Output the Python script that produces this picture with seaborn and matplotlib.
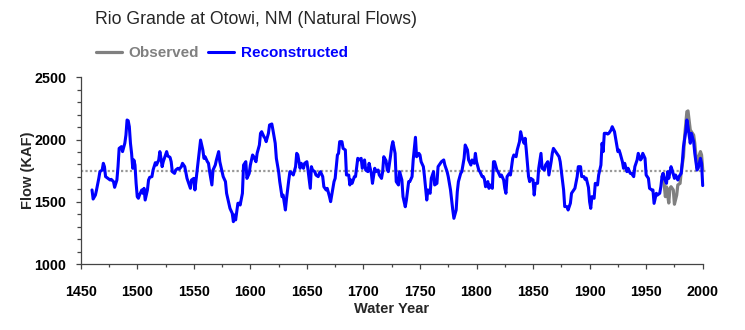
import numpy as np
import pandas as pd
import matplotlib
matplotlib.use("Agg")
import matplotlib.pyplot as plt
from matplotlib.ticker import MultipleLocator
import seaborn as sns

# Reconstructed annual natural flow (KAF), Rio Grande at Otowi
recon_years = [
    1460, 1461, 1463, 1464, 1466, 1467, 1469, 1470, 1471, 1472, 1474, 1476, 1477, 1479, 1480,
    1482, 1483, 1484, 1486, 1487, 1489, 1490, 1491, 1492, 1493, 1494, 1495, 1496, 1497, 1498,
    1499, 1500, 1501, 1502, 1504, 1505, 1506, 1507, 1509, 1510, 1511, 1513, 1514, 1516, 1517,
    1519, 1520, 1521, 1522, 1523, 1525, 1526, 1527, 1529, 1530, 1531, 1533, 1534, 1536, 1537,
    1539, 1540, 1542, 1544, 1545, 1547, 1548, 1550, 1551, 1552, 1553, 1555, 1556, 1558, 1559,
    1560, 1562, 1563, 1564, 1566, 1567, 1569, 1570, 1572, 1573, 1575, 1576, 1578, 1579, 1581,
    1582, 1584, 1585, 1586, 1587, 1589, 1590, 1591, 1593, 1594, 1596, 1597, 1599, 1600, 1602,
    1603, 1605, 1606, 1608, 1609, 1610, 1612, 1613, 1614, 1616, 1617, 1619, 1620, 1622, 1623,
    1625, 1626, 1628, 1629, 1631, 1632, 1634, 1635, 1637, 1638, 1640, 1641, 1642, 1644, 1645,
    1647, 1648, 1650, 1651, 1653, 1654, 1655, 1657, 1658, 1660, 1661, 1662, 1664, 1665, 1667,
    1668, 1670, 1671, 1672, 1674, 1675, 1677, 1678, 1679, 1681, 1682, 1684, 1685, 1687, 1688,
    1689, 1690, 1692, 1693, 1695, 1696, 1698, 1699, 1701, 1702, 1704, 1705, 1707, 1708, 1710,
    1711, 1713, 1714, 1716, 1717, 1718, 1720, 1721, 1722, 1724, 1725, 1726, 1728, 1729, 1731,
    1732, 1734, 1735, 1737, 1738, 1740, 1741, 1743, 1744, 1746, 1747, 1749, 1750, 1751, 1753,
    1754, 1756, 1757, 1759, 1760, 1762, 1763, 1765, 1766, 1768, 1769, 1771, 1772, 1774, 1775,
    1777, 1778, 1779, 1780, 1782, 1783, 1784, 1786, 1787, 1789, 1790, 1792, 1793, 1795, 1796,
    1798, 1799, 1800, 1802, 1803, 1805, 1806, 1807, 1808, 1810, 1811, 1812, 1814, 1815, 1816,
    1818, 1819, 1821, 1822, 1824, 1825, 1826, 1827, 1829, 1830, 1832, 1833, 1835, 1836, 1838,
    1839, 1840, 1842, 1843, 1844, 1846, 1847, 1848, 1850, 1851, 1852, 1854, 1855, 1857, 1858,
    1860, 1861, 1863, 1864, 1866, 1867, 1868, 1870, 1871, 1873, 1874, 1876, 1877, 1878, 1880,
    1881, 1883, 1884, 1886, 1887, 1889, 1890, 1892, 1893, 1895, 1896, 1897, 1899, 1900, 1901,
    1902, 1904, 1905, 1907, 1908, 1910, 1911, 1912, 1913, 1915, 1916, 1917, 1919, 1920, 1922,
    1923, 1925, 1926, 1927, 1929, 1930, 1931, 1933, 1934, 1936, 1937, 1939, 1940, 1942, 1943,
    1945, 1946, 1947, 1949, 1950, 1952, 1953, 1955, 1956, 1957, 1959, 1960, 1962, 1963, 1964,
    1965, 1966, 1968, 1969, 1970, 1972, 1973, 1975, 1976, 1978, 1979, 1981, 1982, 1983, 1985,
    1986, 1987, 1989, 1990, 1992, 1993, 1995, 1996, 1998, 1999, 2000,
]
recon_flow = [
    1595, 1522, 1554, 1595, 1688, 1742, 1755, 1809, 1782, 1702, 1688, 1675, 1680, 1662, 1616,
    1675, 1782, 1929, 1943, 1903, 1970, 2036, 2157, 2151, 2103, 1970, 1889, 1769, 1836, 1795,
    1648, 1541, 1528, 1554, 1595, 1568, 1608, 1514, 1595, 1675, 1696, 1702, 1755, 1814, 1795,
    1836, 1903, 1849, 1782, 1822, 1876, 1903, 1868, 1857, 1822, 1742, 1728, 1755, 1769, 1761,
    1782, 1809, 1782, 1688, 1662, 1608, 1675, 1688, 1595, 1675, 1755, 1916, 1996, 1916, 1849,
    1862, 1822, 1809, 1742, 1635, 1755, 1795, 1836, 1903, 1822, 1742, 1702, 1662, 1568, 1488,
    1447, 1407, 1340, 1394, 1354, 1488, 1488, 1474, 1568, 1795, 1822, 1688, 1728, 1795, 1876,
    1862, 1822, 1889, 1956, 2050, 2063, 2023, 2010, 1983, 2050, 2117, 2125, 2076, 1970, 1849,
    1742, 1662, 1541, 1554, 1434, 1525, 1675, 1742, 1728, 1715, 1782, 1889, 1876, 1769, 1809,
    1769, 1809, 1822, 1755, 1608, 1782, 1755, 1742, 1715, 1702, 1728, 1742, 1702, 1621, 1595,
    1608, 1541, 1501, 1554, 1662, 1688, 1876, 1889, 1983, 1983, 1929, 1916, 1715, 1715, 1635,
    1675, 1648, 1702, 1702, 1849, 1836, 1849, 1769, 1836, 1755, 1742, 1809, 1728, 1648, 1769,
    1742, 1755, 1715, 1688, 1742, 1862, 1830, 1760, 1742, 1870, 1943, 1983, 1889, 1662, 1635,
    1742, 1675, 1541, 1460, 1514, 1662, 1662, 1702, 1836, 2018, 1862, 1889, 1876, 1822, 1782,
    1702, 1514, 1595, 1568, 1688, 1742, 1635, 1648, 1782, 1809, 1822, 1836, 1795, 1742, 1702,
    1595, 1514, 1434, 1367, 1434, 1581, 1662, 1728, 1742, 1849, 1956, 1916, 1836, 1795, 1836,
    1809, 1889, 1822, 1755, 1742, 1702, 1702, 1680, 1621, 1662, 1608, 1635, 1608, 1822, 1822,
    1755, 1742, 1702, 1715, 1675, 1608, 1568, 1702, 1728, 1715, 1849, 1876, 1862, 1916, 1983,
    2063, 2023, 1970, 2010, 1916, 1702, 1662, 1688, 1675, 1554, 1648, 1648, 1769, 1889, 1769,
    1755, 1795, 1822, 1715, 1822, 1889, 1929, 1903, 1889, 1862, 1822, 1675, 1595, 1461, 1461,
    1434, 1488, 1568, 1595, 1608, 1702, 1782, 1782, 1702, 1702, 1680, 1690, 1615, 1500, 1447,
    1541, 1528, 1648, 1635, 1715, 1795, 1970, 1903, 2050, 2050, 2044, 2050, 2077, 2103, 2063,
    2010, 1903, 1916, 1889, 1822, 1769, 1809, 1742, 1769, 1728, 1728, 1702, 1782, 1836, 1889,
    1836, 1849, 1889, 1849, 1715, 1688, 1608, 1595, 1595, 1487, 1568, 1554, 1568, 1621, 1700,
    1728, 1688, 1648, 1742, 1688, 1782, 1755, 1688, 1715, 1675, 1702, 1728, 1822, 1943, 2063,
    2157, 2103, 1970, 2050, 1983, 1889, 1755, 1769, 1849, 1809, 1630,
]

# Observed natural flow (KAF)
obs_years = [
    1964, 1965, 1967, 1968, 1970, 1971, 1972, 1974, 1975, 1977, 1978, 1980, 1981, 1983,
    1984, 1986, 1987, 1989, 1990, 1992, 1993, 1995, 1996, 1998, 1999, 2000,
]
obs_flow = [
    1700, 1728, 1541, 1620, 1490, 1608, 1621, 1595, 1480, 1554, 1635, 1648, 1742, 1862,
    2023, 2224, 2230, 2077, 2063, 2036, 1970, 1769, 1849, 1903, 1876, 1760,
]

mean_flow = 1750

title_text = "Rio Grande at Otowi, NM (Natural Flows)"
x_label = "Water Year"
y_label = "Flow (KAF)"
obs_label = "Observed"
recon_label = "Reconstructed"

recon_df = pd.DataFrame({"year": recon_years, "flow": recon_flow})
obs_df = pd.DataFrame({"year": obs_years, "flow": obs_flow})

sns.set_theme(style="ticks")
plt.rcParams["font.family"] = ["Liberation Sans", "DejaVu Sans"]

W, H = 745, 330
fig = plt.figure(figsize=(W / 100, H / 100), dpi=100)
ax = fig.add_axes([80.7 / W, 1 - 264 / H, (702.7 - 80.7) / W, (264 - 77.3) / H])

obs_color = "#808080"
recon_color = "#0000FF"

# mean reference line
ax.hlines(mean_flow, 1450, 2003, colors="#999999", linestyles=(0, (1, 1)),
          linewidth=1.6, clip_on=False, zorder=1)

sns.lineplot(data=obs_df, x="year", y="flow", ax=ax, color=obs_color,
             linewidth=2.3, label=obs_label, zorder=2, clip_on=False)
sns.lineplot(data=recon_df, x="year", y="flow", ax=ax, color=recon_color,
             linewidth=2.2, label=recon_label, zorder=3, clip_on=False)

ax.set_xlim(1450, 2000)
ax.set_ylim(1000, 2500)
ax.xaxis.set_major_locator(MultipleLocator(50))
ax.xaxis.set_minor_locator(MultipleLocator(25))
ax.yaxis.set_major_locator(MultipleLocator(500))
ax.yaxis.set_minor_locator(MultipleLocator(100))

for side in ("top", "right"):
    ax.spines[side].set_visible(False)
for side in ("left", "bottom"):
    ax.spines[side].set_color("#444444")
    ax.spines[side].set_linewidth(0.9)

ax.tick_params(axis="both", which="both", direction="out", color="#444444", width=0.9)
ax.tick_params(axis="x", which="major", length=3.5, pad=11.5)
ax.tick_params(axis="x", which="minor", length=2)
ax.tick_params(axis="y", which="major", length=3.5, pad=7)
ax.tick_params(axis="y", which="minor", length=3)
for lab in ax.get_xticklabels() + ax.get_yticklabels():
    lab.set_fontweight("bold")
    lab.set_fontsize(10.3)
    lab.set_color("black")

ax.set_xlabel(x_label, fontsize=10.5, fontweight="bold", labelpad=0)
ax.set_ylabel(y_label, fontsize=10.5, fontweight="bold", labelpad=0)
ax.xaxis.set_label_coords(0.5, -(309 - 264) / (264 - 77.3))
ax.yaxis.set_label_coords(-(80.7 - 28) / (702.7 - 80.7), 0.5)
ax.xaxis.label.set_verticalalignment("center")
ax.yaxis.label.set_verticalalignment("center")

fig.text(95 / W, 1 - 20 / H, title_text, fontsize=12.7, ha="left", va="center")

handles, labels = ax.get_legend_handles_labels()
ax.get_legend().remove()
leg = fig.legend(handles, labels, loc="center left", bbox_to_anchor=(96 / W, 1 - 53 / H),
                 ncol=2, frameon=False, borderpad=0, borderaxespad=0,
                 handlelength=1.7, handletextpad=0.45, columnspacing=0.55,
                 prop={"weight": "bold", "size": 11})
for txt, col in zip(leg.get_texts(), [obs_color, recon_color]):
    txt.set_color(col)

fig.savefig("out.png", dpi=100)
